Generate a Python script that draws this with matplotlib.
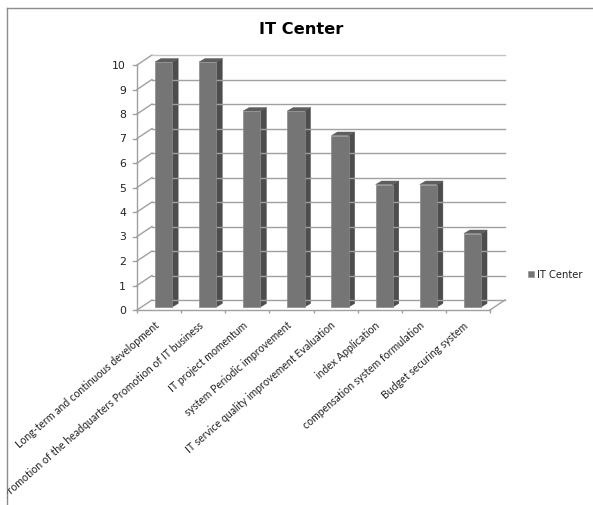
import matplotlib
matplotlib.use("Agg")
import matplotlib.pyplot as plt
from matplotlib.patches import Polygon, Rectangle
from matplotlib.lines import Line2D
from matplotlib.transforms import Affine2D, Bbox

categories = ["Long-term and continuous development",
              "Promotion of the headquarters Promotion of IT business",
              "IT project momentum",
              "system Periodic improvement",
              "IT service quality improvement Evaluation",
              "index Application",
              "compensation system formulation",
              "Budget securing system"]
values = [10, 10, 8, 8, 7, 5, 5, 3]
series_name = "IT Center"
yticks = list(range(0, 11))

W, H = 593, 505
fig = plt.figure(figsize=(W/100, H/100), dpi=100, facecolor="white")
L, R, B, T = 137, 490, 310, 65
ax = fig.add_axes([L/W, 1-B/H, (R-L)/W, (B-T)/H])
ax.set_xlim(0, len(values)); ax.set_ylim(0, 10)
ax.patch.set_visible(False)
for s in ax.spines.values():
    s.set_visible(False)

def shifted(dx, dy):
    return ax.transData + Affine2D().translate(dx, dy)

def pixel_line(xs, ys, color, lw=1.0, zorder=1):
    fig.add_artist(Line2D(xs, ys, transform=None, color=color, lw=lw, zorder=zorder))

GRID = "#a0a0a0"
DX, DY = 15, 10
for v in yticks:
    c = "#c4c4c4" if v == 10 else GRID
    ax.plot([0, len(values)], [v, v], color=c, lw=1.0, transform=shifted(DX, DY), clip_on=False, zorder=1)
    p0 = ax.transData.transform((0, v))
    pixel_line([p0[0], p0[0]+DX], [p0[1], p0[1]+DY], GRID)
    pixel_line([p0[0]-4, p0[0]], [p0[1], p0[1]], GRID)
p1 = ax.transData.transform((len(values), 0))
pixel_line([p1[0], p1[0]+DX], [p1[1], p1[1]+DY], GRID)
ax.plot([0, 0], [0, 10], color=GRID, lw=1.0, clip_on=False, zorder=2)
ax.plot([0, len(values)], [0, 0], color=GRID, lw=1.0, clip_on=False, zorder=2)

FRONT, SIDE, TOP = "#757575", "#4d4d4d", "#5e5e5e"
bw = 0.39
ox, oy = 4.5, 3
d, e = 6, 3.5
trans = shifted(ox, oy)
for i, v in enumerate(values):
    x0, x1 = i + .5 - bw/2, i + .5 + bw/2
    ax.add_patch(Polygon([(x0, 0), (x1, 0), (x1, v), (x0, v)], closed=True, fc=FRONT, ec="#8a8a8a", lw=.5,
                         transform=trans, zorder=3, clip_on=False))
    a = trans.transform([(x0, 0), (x1, 0), (x1, v), (x0, v)])
    side = [a[1], a[1] + (d, e), a[2] + (d, e), a[2]]
    top = [a[3], a[2], a[2] + (d, e), a[3] + (d, e)]
    fig.add_artist(Polygon(side, closed=True, fc=SIDE, ec=SIDE, lw=.3, transform=None, zorder=4))
    fig.add_artist(Polygon(top, closed=True, fc=TOP, ec=TOP, lw=.3, transform=None, zorder=4))

ax.set_yticks(yticks)
ax.set_yticklabels([str(v) for v in yticks], fontsize=7.8, color="#222222", family="DejaVu Sans")
ax.tick_params(axis="y", length=0, pad=8)
ax.set_xticks(list(range(len(values)+1)))
ax.set_xticklabels([""]*(len(values)+1))
ax.tick_params(axis="x", length=2.5, color=GRID, width=1)

frame_box = Bbox.from_extents(7, 0, W, H-8)
for i, c in enumerate(categories):
    t = ax.annotate(c, xy=(i+.5, 0), xytext=(-5, -10), textcoords="offset pixels",
                    rotation=41, rotation_mode="anchor", ha="right", va="top",
                    fontsize=7.6, family="Lato", color="#222222", annotation_clip=False)
    t.set_clip_on(True)
    t.set_clip_box(frame_box)

ax.set_zorder(5)
fig.text(301/W, 1-29/H, series_name, ha="center", va="center", fontsize=11.7, fontweight="bold",
         family="DejaVu Sans", color="black")

# legend
fig.add_artist(Rectangle((528, H-277), 6, 6, transform=None, fc=FRONT, ec="#8a8a8a", lw=.4))
fig.text(537/W, 1-274.5/H, series_name, ha="left", va="center", fontsize=7.2, family="DejaVu Sans", color="#222222")

# chart frame
pixel_line([6.5, 6.5], [0, H-7.5], "#8c8c8c")
pixel_line([6.5, W], [H-7.5, H-7.5], "#8c8c8c")

fig.savefig("out.png", dpi=100)
